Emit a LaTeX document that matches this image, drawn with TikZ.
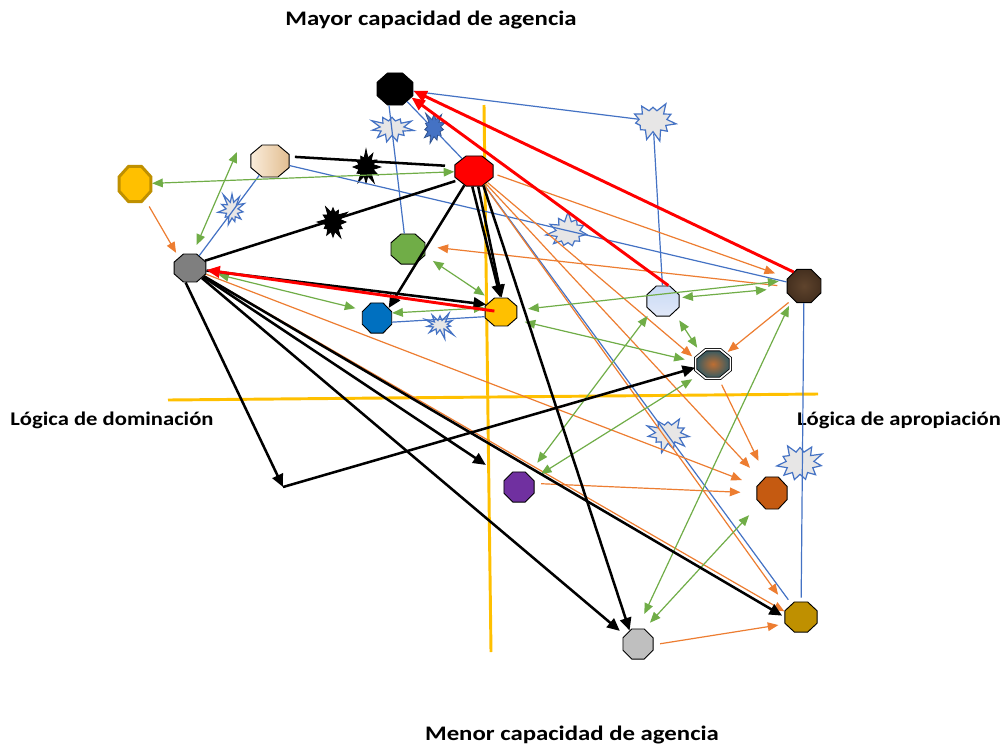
\documentclass[tikz,border=0pt]{standalone}
\usepackage{fontspec}
\setmainfont{Carlito}
\usetikzlibrary{shapes.geometric,shapes.symbols,arrows.meta}
\definecolor{cblue}{HTML}{4472C4}
\definecolor{corange}{HTML}{ED7D31}
\definecolor{cgreen}{HTML}{70AD47}
\definecolor{cyell}{HTML}{FFC000}
\definecolor{cgold}{HTML}{BF9000}
\definecolor{cstar}{HTML}{E7E6E6}
\definecolor{cnavy}{HTML}{2F528F}
\definecolor{cpurple}{HTML}{7030A0}
\definecolor{cburnt}{HTML}{C55A11}
\definecolor{cnblue}{HTML}{0070C0}
\definecolor{cgray}{HTML}{7F7F7F}
\definecolor{clgray}{HTML}{BFBFBF}
\definecolor{cbrown}{HTML}{45301F}
\definecolor{cnodeg}{HTML}{70AD47}
\tikzset{
  oct/.style={regular polygon, regular polygon sides=8, draw=black, line width=0.7pt, inner sep=0pt},
  wstar/.style={starburst, starburst points=11, starburst point height=8pt, draw=cblue, fill=cstar, line width=0.9pt, inner sep=0pt},
  bstar/.style={starburst, starburst points=11, starburst point height=7pt, draw=cnavy, fill=cblue, line width=0.6pt, inner sep=0pt},
  kstar/.style={starburst, starburst points=12, starburst point height=7pt, draw=black, fill=black, line width=0.6pt, inner sep=0pt},
  blueline/.style={draw=cblue, line width=0.9pt},
  orar/.style={draw=corange, line width=0.9pt, -{Triangle[length=8pt,width=6.5pt]}},
  grar/.style={draw=cgreen, line width=0.9pt, {Triangle[length=8pt,width=6.5pt]}-{Triangle[length=8pt,width=6.5pt]}},
  blkar/.style={draw=black, line width=1.9pt, -{Triangle[length=9.5pt,width=8.5pt]}},
  blkline/.style={draw=black, line width=1.9pt},
  redar/.style={draw=red, line width=2.2pt, -{Triangle[length=10pt,width=8.5pt]}},
  axisline/.style={draw=cyell, line width=2.2pt},
  lbl/.style={font=\bfseries\fontsize{15.5}{18}\selectfont, inner sep=0pt},
  slbl/.style={font=\bfseries\fontsize{14.5}{17}\selectfont, inner sep=0pt}
}
\begin{document}
\begin{tikzpicture}[x=0.75pt, y=-0.75pt]
\useasboundingbox (0,0) rectangle (1003,747);
\fill[white] (0,0) rectangle (1003,747);

% axes
\draw[axisline] (484,105) -- (491,652);
\draw[axisline] (168,400) -- (818,394);

% labels
\node[lbl] (tTop) at (431,20) {\scalebox{1.2}[1]{Mayor capacidad de agencia}};
\node[lbl] (tBot) at (572,735) {\scalebox{1.2}[1]{Menor capacidad de agencia}};
\node[slbl] (tLeft) at (112,420) {\scalebox{1.17}[1]{Lógica de dominación}};
\node[slbl] (tRight) at (899,420) {\scalebox{1.17}[1]{Lógica de apropiación}};

% stars
\node[wstar, minimum width=34pt, minimum height=27pt, random starburst=3] (s1) at (392,128) {};
\node[bstar, minimum width=24pt, minimum height=27pt, random starburst=5] (s2) at (434,128) {};
\node[kstar, minimum width=25pt, minimum height=28pt, random starburst=7] (s3) at (366,167) {};
\node[kstar, minimum width=25pt, minimum height=29pt, random starburst=9] (s4) at (333,222) {};
\node[wstar, minimum width=25pt, minimum height=28pt, random starburst=11] (s5) at (232,210) {};
\node[wstar, minimum width=37pt, minimum height=32pt, random starburst=13] (s6) at (653,121) {};
\node[wstar, minimum width=34pt, minimum height=32pt, random starburst=17] (s7) at (568,232) {};
\node[wstar, minimum width=27pt, minimum height=23pt, random starburst=19] (s8) at (440,325) {};
\node[wstar, minimum width=35pt, minimum height=30pt, random starburst=23] (s9) at (668,434) {};
\node[wstar, minimum width=37pt, minimum height=33pt, random starburst=29] (s10) at (800,463) {};

% nodes
\node[oct, fill=black, minimum size=26pt, xscale=1.12] (nBlack) at (395,89) {};
\node[oct, left color={rgb,255:red,250;green,236;blue,218}, right color={rgb,255:red,226;green,190;blue,145}, minimum size=26pt, xscale=1.19] (nBeige) at (270,161) {};
\node[oct, fill=cyell, draw=cgold, line width=2.2pt, minimum size=28.5pt, xscale=0.9] (nGold) at (135,184) {};
\node[oct, fill=red, minimum size=24.4pt, xscale=1.27] (nRed) at (474,171) {};
\node[oct, fill=cgray, minimum size=22.7pt, xscale=1.14] (nGray) at (190,268) {};
\node[oct, fill=cnodeg, minimum size=24.4pt, xscale=1.13] (nGreen) at (408,249) {};
\node[oct, fill=cnblue, minimum size=24.4pt, xscale=0.98] (nBlue) at (377,318) {};
\node[oct, fill=cyell, minimum size=22.7pt, xscale=1.14] (nYellow) at (501,312) {};
\node[oct, top color={rgb,255:red,200;green,218;blue,245}, bottom color={rgb,255:red,225;green,232;blue,248}, minimum size=24.4pt, xscale=1.07] (nLBlue) at (663,301) {};
\node[oct, inner color={rgb,255:red,95;green,68;blue,45}, outer color=cbrown, minimum size=27pt, xscale=1.02] (nBrown) at (804,286) {};
\node[oct, inner color={rgb,255:red,190;green,110;blue,50}, outer color={rgb,255:red,50;green,90;blue,100}, double=white, double distance=1.2pt, line width=0.6pt, minimum size=23.3pt, xscale=1.21] (nTex) at (713,364) {};
\node[oct, fill=cpurple, minimum size=24.4pt] (nPurple) at (519,487) {};
\node[oct, fill=cburnt, minimum size=26pt, xscale=0.94] (nOrange) at (772,493) {};
\node[oct, fill=cgold, minimum size=24.4pt, xscale=1.07] (nOlive) at (801,617) {};
\node[oct, fill=clgray, minimum size=24.4pt] (nLGray) at (638,644) {};

\coordinate (gbTip) at (237,152);
\coordinate (corner) at (283,487);

% blue lines
\draw[blueline] (nBlack.-8) -- (s6) -- (nLBlue.92);
\draw[blueline] (nBlack.252) -- (nGreen.102);
\draw[blueline] (nBlack) -- (nRed);
\draw[blueline] (nBeige) -- (nGray);
\draw[blueline] (nBeige) -- (nBrown);
\draw[blueline] (nBlue.-15) -- (nYellow.-162);
\draw[blueline, shorten >=4pt] (nRed) -- (nOlive);
\draw[blueline, shorten <=3pt] (nOlive) -- (nBrown);

% orange arrows
\draw[orar, shorten <=6pt, shorten >=4pt] (nGold.-54) -- (nGray.133);
\draw[orar, shorten <=7pt, shorten >=9pt] (nBrown.182) -- (nGreen.10);
\draw[orar, shorten <=3pt, shorten >=10pt] (nRed.-10) -- (nBrown.153);
\draw[orar, shorten >=3pt] (nRed) -- (nTex.161);
\draw[orar, shorten >=13pt] (nRed) -- (nOrange.131);
\draw[orar, shorten >=12pt] (nRed) -- (nOlive.144);
\draw[orar, shorten <=4pt, shorten >=2pt] (nBrown.230) -- (nTex.45);
\draw[orar, shorten <=5pt, shorten >=13pt] (nTex.-72) -- (nOrange.111);
\draw[orar, shorten >=12pt] (nGray) -- (nOrange.156);
\draw[orar, shorten <=5pt, shorten >=12pt] (nPurple.13) -- (nOrange.180);
\draw[orar] (nGray) -- (nOlive.160);
\draw[orar, shorten <=5pt, shorten >=5pt] (nLGray.-3) -- (nOlive.205);

% green double arrows
\draw[grar] (nGold) -- (nRed);
\draw[grar, shorten <=7pt] (nGray.80) -- (gbTip);
\draw[grar, shorten <=7pt, shorten >=6pt] (nGreen.-24) -- (nYellow.125);
\draw[grar, shorten <=9pt, shorten >=6pt] (nGray.-14) -- (nBlue.151);
\draw[grar] (nBlue.18) -- (nYellow.164);
\draw[grar, shorten <=8pt, shorten >=6pt] (nYellow.8) -- (nBrown.162);
\draw[grar, shorten <=2pt, shorten >=15pt] (nLBlue.12) -- (nBrown.186);
\draw[grar, shorten <=7pt, shorten >=5pt] (nLBlue.-48) -- (nTex.133);
\draw[grar, shorten <=7pt, shorten >=8pt] (nYellow.-31) -- (nTex.172);
\draw[grar, shorten <=4pt, shorten >=11pt] (nLBlue.223) -- (nPurple.53);
\draw[grar, shorten <=7pt, shorten >=7pt] (nTex.224) -- (nPurple.30);
\draw[grar, shorten <=6pt, shorten >=12pt] (nBrown.228) -- (nLGray.92);
\draw[grar, shorten <=12pt, shorten >=6pt] (nOrange.219) -- (nLGray.67);

% black lines and arrows
\draw[blkline, shorten <=4pt, shorten >=7pt] (nBeige.15) -- (nRed.163);
\draw[blkline, shorten >=2pt] (nGray.29) -- (nRed.216);
\draw[blkar] (nRed.-118) -- (nBlue.40);
\draw[blkar] (nRed.-95) -- (nYellow.92);
\draw[blkar] (nRed.-78) -- (nYellow.88);
\draw[blkar] (nRed.-63) -- (nLGray.122);
\draw[blkar] (nGray.-10) -- (nYellow.150);
\draw[blkar] (nGray.-105) -- (corner);
\draw[blkar] (corner) -- (nTex.194);
\draw[blkar, shorten >=18pt] (nGray) -- (nPurple);
\draw[blkar, shorten >=5pt] (nGray) -- (nLGray.146);
\draw[blkar, shorten >=2pt] (nGray) -- (nOlive.180);

% red arrows
\draw[redar] (nBrown.126) -- (nBlack.-6);
\draw[redar] (nLBlue.72) -- (nBlack.-30);
\draw[redar, shorten <=5pt] (nYellow.center) -- (nGray.-8);
\end{tikzpicture}
\end{document}
